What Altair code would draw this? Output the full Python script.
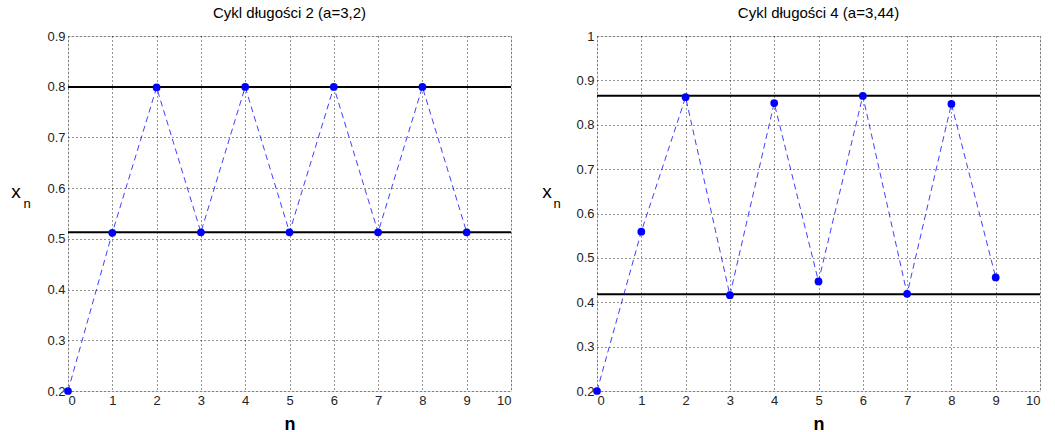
import altair as alt
import pandas as pd

n_vals = [0, 1, 2, 3, 4, 5, 6, 7, 8, 9]
left_x = [0.2, 0.512, 0.7985, 0.5129, 0.7995, 0.513, 0.7995, 0.513, 0.7995, 0.513]
left_levels = [0.513, 0.7995]
right_x = [0.2, 0.559, 0.862, 0.416, 0.849, 0.447, 0.865, 0.419, 0.847, 0.456]
right_levels = [0.8655, 0.418]
x_ticks = [0, 1, 2, 3, 4, 5, 6, 7, 8, 9, 10]
left_y_ticks = [0.2, 0.3, 0.4, 0.5, 0.6, 0.7, 0.8, 0.9]
right_y_ticks = [0.2, 0.3, 0.4, 0.5, 0.6, 0.7, 0.8, 0.9, 1.0]
titles = ["Cykl długości 2 (a=3,2)", "Cykl długości 4 (a=3,44)"]

FONT = "Liberation Sans"
W, H = 443, 355


def panel(title, xs, levels, y_ticks, xoff_x, xoff_n):
    df = pd.DataFrame({"n": n_vals, "x": xs})
    lv = pd.DataFrame({"lvl": levels})
    xscale = alt.Scale(domain=[0, 10], nice=False, zero=False)
    yscale = alt.Scale(domain=[y_ticks[0], y_ticks[-1]], nice=False, zero=False)
    xaxis = alt.Axis(values=x_ticks, title="n", grid=True, gridDash=[1, 3],
                     gridColor="#000", gridOpacity=0.85, ticks=False,
                     labelPadding=3, domain=False,
                     labelFont=FONT, labelFontSize=13, labelColor="#222",
                     titleFont=FONT, titleColor="#000",
                     titleFontSize=18, titleFontWeight="bold", titlePadding=8)
    yaxis = alt.Axis(values=y_ticks, title=None, grid=True, gridDash=[1, 3],
                     gridColor="#000", gridOpacity=0.85, ticks=False,
                     labelPadding=3, domain=False,
                     labelFont=FONT, labelFontSize=13, labelColor="#222",
                     labelExpr="format(datum.value, '~g')")
    base = alt.Chart(df)
    line = base.mark_line(color="#0000ff", strokeDash=[6, 4], strokeWidth=1,
                          opacity=0.75).encode(
        x=alt.X("n:Q", scale=xscale, axis=xaxis),
        y=alt.Y("x:Q", scale=yscale, axis=yaxis),
    )
    pts = base.mark_point(filled=True, color="#0000ff", size=60, opacity=1).encode(
        x="n:Q", y="x:Q")
    rules = alt.Chart(lv).mark_rule(color="#000", strokeWidth=2).encode(
        y="lvl:Q")
    tx = alt.Chart(pd.DataFrame({"t": ["x"]})).mark_text(
        font=FONT, fontSize=19, align="center", baseline="middle", color="#000"
    ).encode(x=alt.value(xoff_x), y=alt.value(156), text="t:N")
    tn = alt.Chart(pd.DataFrame({"t": ["n"]})).mark_text(
        font=FONT, fontSize=13, align="center", baseline="middle", color="#000"
    ).encode(x=alt.value(xoff_n), y=alt.value(168), text="t:N")
    return alt.layer(rules, line, pts, tx, tn).properties(
        width=W, height=H,
        title=alt.TitleParams(title, fontSize=15, font=FONT, fontWeight="normal",
                              color="#000", offset=9),
    )


left = panel(titles[0], left_x, left_levels, left_y_ticks, -52, -41)
right = panel(titles[1], right_x, right_levels, right_y_ticks, -50, -40)

chart = alt.hconcat(left, right, spacing=28).properties(
    padding={"left": 10, "top": 5, "right": 5, "bottom": 0}
).configure_view(
    stroke="#333", strokeWidth=1
).configure(background="white")

chart.save("out.html", embed_options={"renderer": "svg", "actions": False})
